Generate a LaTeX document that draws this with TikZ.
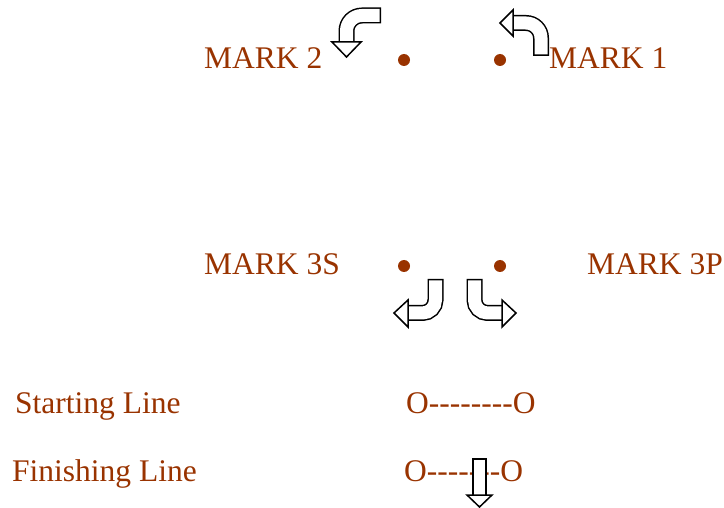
\documentclass[tikz,border=0pt]{standalone}
\usepackage{fontspec}
\setmainfont{Liberation Serif}[Ligatures=TeXOff]
\definecolor{markred}{RGB}{153,51,0}
\tikzset{
  lbl/.style={anchor=base west,inner sep=0pt,text=markred,font=\fontsize{31.5}{38}\selectfont},
  buoy/.style={circle,fill=markred,inner sep=0pt,minimum size=12pt},
  shaftout/.style={line width=16pt,draw=black},
  shaftin/.style={line width=13pt,draw=white,shorten <=1.5pt},
  arrowhead/.style={fill=white,draw=black,line width=1.5pt,line join=miter}
}
\begin{document}
\begin{tikzpicture}[x=1pt,y=-1pt]
  \useasboundingbox (0,0) rectangle (724,508);

  %labels of the marks
  \node[lbl] (m2) at (204,68.5) {MARK 2};
  \node[lbl] (m1) at (549,68.5) {MARK 1};
  \node[lbl] (m3s) at (204,275) {MARK 3S};
  \node[lbl] (m3p) at (587,275) {MARK 3P};
  \node[lbl] (start) at (15,413) {Starting Line};
  \node[lbl] (finish) at (12,481.5) {Finishing Line};
  \node[lbl] (startline) at (406,413) {O--------O};
  \node[lbl] (finishline) at (404,481.5) {O-------O};

  %the buoys
  \node[buoy] (b2) at (404,60) {};
  \node[buoy] (b1) at (500,60) {};
  \node[buoy] (b3s) at (404,266) {};
  \node[buoy] (b3p) at (500,266) {};

  %turn near mark 2
  \draw[shaftout] (381,15.5) -- (362,15.5) arc (-90:-180:15.5) -- (346.5,43);
  \draw[shaftin] (381,15.5) -- (362,15.5) arc (-90:-180:15.5) -- (346.5,43);
  \draw[arrowhead] (332,42) -- (361,42) -- (346.5,57) -- cycle;

  %turn near mark 1
  \draw[shaftout] (541,56) -- (541,38) arc (0:-90:15) -- (512,23);
  \draw[shaftin] (541,56) -- (541,38) arc (0:-90:15) -- (512,23);
  \draw[arrowhead] (513,10) -- (513,36) -- (500,23) -- cycle;

  %turn near mark 3S
  \draw[shaftout] (435.5,279) -- (435.5,300) arc (0:90:13) -- (407,313);
  \draw[shaftin] (435.5,279) -- (435.5,300) arc (0:90:13) -- (407,313);
  \draw[arrowhead] (408,300) -- (408,327) -- (394,313) -- cycle;

  %turn near mark 3P
  \draw[shaftout] (474.5,279) -- (474.5,300) arc (180:90:13) -- (503,313);
  \draw[shaftin] (474.5,279) -- (474.5,300) arc (180:90:13) -- (503,313);
  \draw[arrowhead] (502,300) -- (502,327) -- (516,313) -- cycle;

  %finish
  \draw[shaftout,line width=14.5pt] (479.5,458) -- (479.5,496);
  \draw[shaftin,line width=11.5pt] (479.5,458) -- (479.5,496);
  \draw[arrowhead] (467,495) -- (492,495) -- (479.5,507) -- cycle;
\end{tikzpicture}
\end{document}
